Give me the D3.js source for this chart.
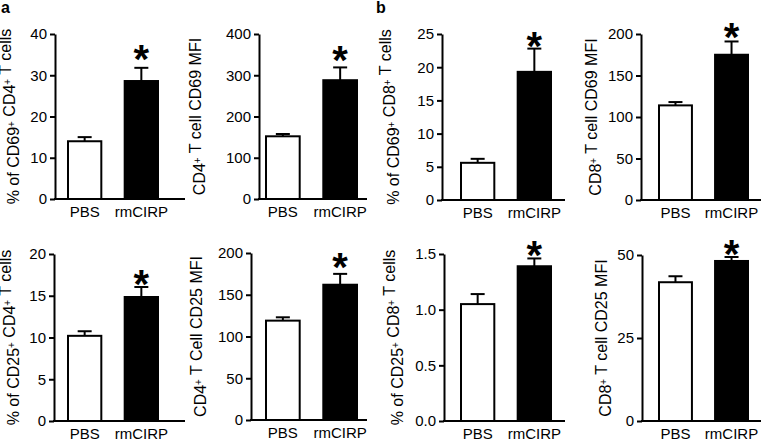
<!DOCTYPE html>
<html><head><meta charset="utf-8">
<script src="https://cdn.jsdelivr.net/npm/d3@7"></script>
<style>
body{margin:0;background:#fff}
text{font-family:"Liberation Sans",Arial,Helvetica,sans-serif;fill:#000}
</style>
</head><body>
<svg id="c" width="762" height="441"></svg>
<script>
// ---------- data ----------
const groups = ["PBS", "rmCIRP"];

const cd69Cd4Pct = [14.0, 28.6],  cd69Cd4PctErr = [1.0, 3.2],  cd69Cd4PctStar = 35.2;
const cd69Cd4Mfi = [152, 288],    cd69Cd4MfiErr = [5.6, 31],   cd69Cd4MfiStar = 350;
const cd69Cd8Pct = [5.6, 19.3],   cd69Cd8PctErr = [0.6, 3.5],  cd69Cd8PctStar = 23.9;
const cd69Cd8Mfi = [114, 175],    cd69Cd8MfiErr = [4, 16],     cd69Cd8MfiStar = 202;
const cd25Cd4Pct = [10.2, 14.85], cd25Cd4PctErr = [0.55, 1.2], cd25Cd4PctStar = 17.0;
const cd25Cd4Mfi = [119, 162],    cd25Cd4MfiErr = [4, 13],     cd25Cd4MfiStar = 189;
const cd25Cd8Pct = [1.05, 1.39],  cd25Cd8PctErr = [0.09, 0.07],cd25Cd8PctStar = 1.54;
const cd25Cd8Mfi = [41.8, 48.2],  cd25Cd8MfiErr = [1.8, 1.2],  cd25Cd8MfiStar = 51.9;

const ticks1 = [0, 10, 20, 30, 40];
const ticks2 = [0, 100, 200, 300, 400];
const ticks3 = [0, 5, 10, 15, 20, 25];
const ticks4 = [0, 50, 100, 150, 200];
const ticks5 = [0, 5, 10, 15, 20];
const ticks6 = [0, 50, 100, 150, 200];
const ticks7 = [0, 0.5, 1.0, 1.5];
const ticks8 = [0, 25, 50];

const labels = [
  "% of CD69^+ CD4^+ T cells",
  "CD4^+ T cell CD69 MFI",
  "% of CD69^+ CD8^+ T cells",
  "CD8^+ T cell CD69 MFI",
  "% of CD25^+ CD4^+ T cells",
  "CD4^+ T Cell CD25 MFI",
  "% of CD25^+ CD8^+ T cells",
  "CD8^+ T cell CD25 MFI"
];
const panelLetters = ["a", "b"];

// ---------- layout ----------
const panels = [
  {v: cd69Cd4Pct, e: cd69Cd4PctErr, s: cd69Cd4PctStar, t: ticks1, fmt: d3.format("d"),  ax: 55,  top: 34,  bot: 199, xEnd: 185, b0: 67,  b1: 159, lx: 19},
  {v: cd69Cd4Mfi, e: cd69Cd4MfiErr, s: cd69Cd4MfiStar, t: ticks2, fmt: d3.format("d"),  ax: 259, top: 34,  bot: 199, xEnd: 367, b0: 265, b1: 358, lx: 205},
  {v: cd69Cd8Pct, e: cd69Cd8PctErr, s: cd69Cd8PctStar, t: ticks3, fmt: d3.format("d"),  ax: 442, top: 34,  bot: 200, xEnd: 565, b0: 460, b1: 552, lx: 399},
  {v: cd69Cd8Mfi, e: cd69Cd8MfiErr, s: cd69Cd8MfiStar, t: ticks4, fmt: d3.format("d"),  ax: 641, top: 34,  bot: 200, xEnd: 761, b0: 658, b1: 749, lx: 601},
  {v: cd25Cd4Pct, e: cd25Cd4PctErr, s: cd25Cd4PctStar, t: ticks5, fmt: d3.format("d"),  ax: 54,  top: 254, bot: 421, xEnd: 185, b0: 67,  b1: 159, lx: 19},
  {v: cd25Cd4Mfi, e: cd25Cd4MfiErr, s: cd25Cd4MfiStar, t: ticks6, fmt: d3.format("d"),  ax: 251, top: 253, bot: 420, xEnd: 367, b0: 265, b1: 358, lx: 206},
  {v: cd25Cd8Pct, e: cd25Cd8PctErr, s: cd25Cd8PctStar, t: ticks7, fmt: d3.format(".1f"),ax: 444, top: 254, bot: 421, xEnd: 565, b0: 460, b1: 552, lx: 403},
  {v: cd25Cd8Mfi, e: cd25Cd8MfiErr, s: cd25Cd8MfiStar, t: ticks8, fmt: d3.format("d"),  ax: 642, top: 255, bot: 421, xEnd: 761, b0: 658, b1: 749, lx: 611}
];

const svg = d3.select("#c");

panels.forEach((p, i) => {
  const g = svg.append("g");
  const y = d3.scaleLinear().domain([0, p.t[p.t.length - 1]]).range([p.bot, p.top]);
  const x = d3.scaleBand().domain(groups).range([p.b0, p.b1]).paddingInner(0.377).paddingOuter(0);

  // bars
  g.selectAll("rect.bar").data(groups).join("rect")
    .attr("x", d => x(d) + 1)
    .attr("width", x.bandwidth() - 2)
    .attr("y", (d, j) => y(p.v[j]))
    .attr("height", (d, j) => p.bot - y(p.v[j]))
    .attr("fill", (d, j) => j === 0 ? "#fff" : "#000")
    .attr("stroke", "#000").attr("stroke-width", 2);

  // error bars (upper only)
  groups.forEach((d, j) => {
    const cx = x(d) + x.bandwidth() / 2;
    g.append("line").attr("x1", cx).attr("x2", cx)
      .attr("y1", y(p.v[j])).attr("y2", y(p.v[j] + p.e[j]))
      .attr("stroke", "#000").attr("stroke-width", 2);
    g.append("line").attr("x1", cx - 7).attr("x2", cx + 7)
      .attr("y1", y(p.v[j] + p.e[j])).attr("y2", y(p.v[j] + p.e[j]))
      .attr("stroke", "#000").attr("stroke-width", 2);
  });

  // asterisk above rmCIRP
  g.append("text")
    .attr("x", x("rmCIRP") + x.bandwidth() / 2)
    .attr("y", y(p.s) + 19)
    .attr("text-anchor", "middle")
    .attr("font-size", 40).attr("font-weight", "bold")
    .text("*");

  // y axis
  const yAxis = d3.axisLeft(y).tickValues(p.t).tickFormat(p.fmt).tickSize(5).tickPadding(3).tickSizeOuter(0);
  const ga = g.append("g").attr("transform", `translate(${p.ax},0)`).call(yAxis);
  ga.select(".domain").attr("stroke-width", 2);
  ga.selectAll(".tick line").attr("stroke-width", 2);
  ga.selectAll(".tick text").attr("font-size", 15).attr("font-family", '"Liberation Sans",Arial,sans-serif');

  // x axis baseline
  g.append("line").attr("x1", p.ax - 1).attr("x2", p.xEnd)
    .attr("y1", p.bot).attr("y2", p.bot)
    .attr("stroke", "#000").attr("stroke-width", 2);

  // category labels
  g.selectAll("text.cat").data(groups).join("text")
    .attr("class", "cat")
    .attr("x", d => x(d) + x.bandwidth() / 2)
    .attr("y", p.bot + 18)
    .attr("text-anchor", "middle")
    .attr("font-size", 15)
    .text(d => d);

  // y label with superscripts
  const lab = g.append("text")
    .attr("transform", `translate(${p.lx},${(p.top + p.bot) / 2}) rotate(-90)`)
    .attr("text-anchor", "middle")
    .attr("font-size", 16);
  const parts = labels[i].split(/(\^\+)/);
  parts.forEach(part => {
    if (part === "^+") {
      lab.append("tspan").attr("dy", -4).attr("font-size", 10).text("+");
      lab.append("tspan").attr("dy", 4).text("");
    } else if (part.length) {
      lab.append("tspan").text(part);
    }
  });
});

// panel letters
svg.append("text").attr("x", 1).attr("y", 13).attr("font-size", 16).attr("font-weight", "bold").text(panelLetters[0]);
svg.append("text").attr("x", 376).attr("y", 13).attr("font-size", 16).attr("font-weight", "bold").text(panelLetters[1]);
</script>
</body></html>
